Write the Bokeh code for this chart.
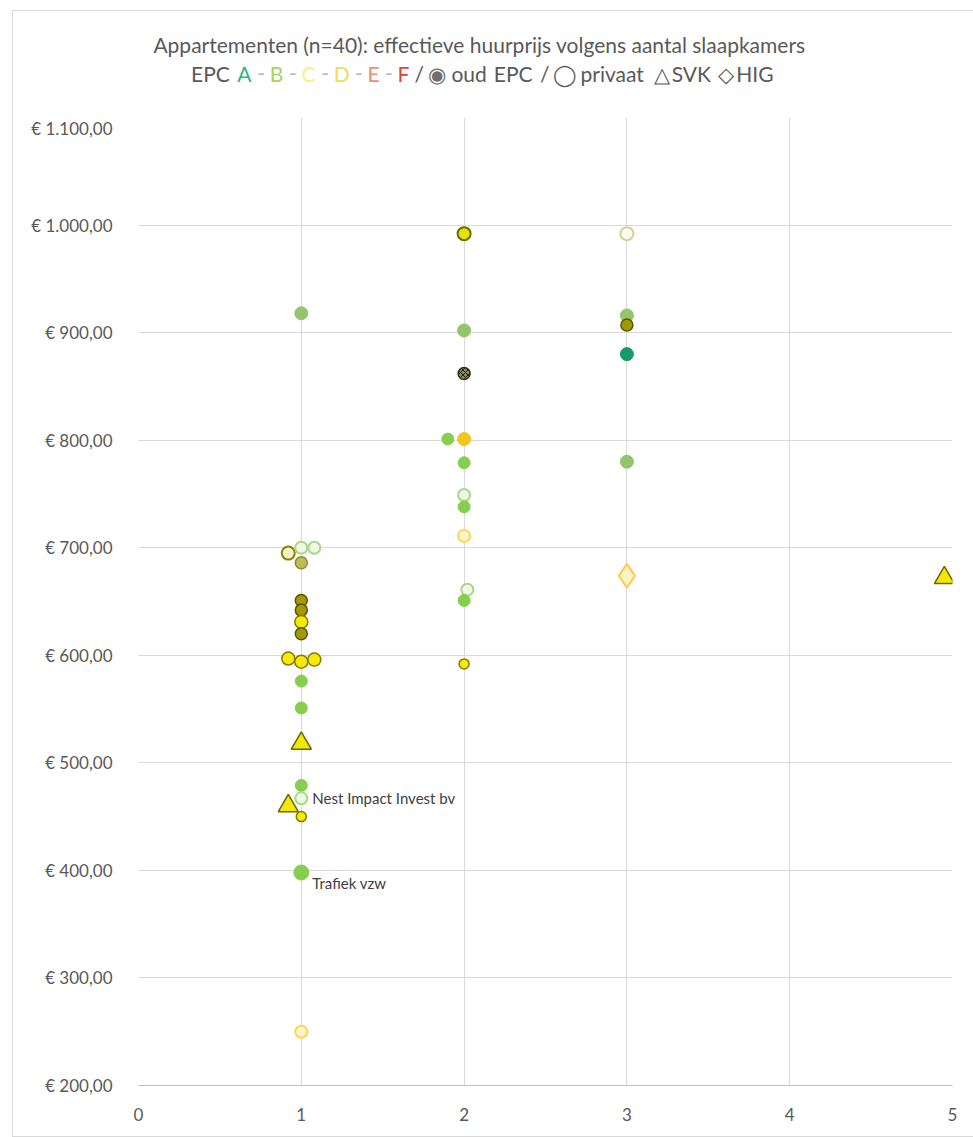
from bokeh.plotting import figure
from bokeh.layouts import column
from bokeh.models import ColumnDataSource, FixedTicker, InlineStyleSheet
from bokeh.core.properties import value
from bokeh.embed import file_html
from bokeh.resources import INLINE

# ---------------- data ----------------
slaapkamers = [1, 0.92, 1, 1.08, 1, 1, 1, 1, 1, 0.92, 1, 1.08, 1, 1, 1, 1, 1, 0.92, 1, 1, 1,
               2, 2, 2, 1.9, 2, 2, 2, 2, 2, 2.02, 2, 2,
               3, 3, 3, 3, 3, 3,
               4.95]
huurprijs = [918, 695, 700, 700, 686, 651, 642, 631, 620, 597, 594, 596, 576, 551, 518, 479, 467, 460, 450, 398, 250,
             992, 902, 862, 801, 801, 779, 749, 738, 711, 661, 651, 592,
             992, 916, 907, 880, 780, 674,
             672]
klasse = ["B-mat", "oud-hol", "B-hol", "B-hol", "oud-licht", "oud", "oud", "D", "oud", "D", "D", "D", "B", "B",
          "SVK-D", "B", "B-hol", "SVK-D", "D-klein", "B-groot", "C-hol",
          "D-rand", "B-mat", "oud-arc", "B", "D-oranje", "B", "B-hol", "B", "C-hol", "B-hol", "B", "D-klein",
          "licht-hol", "B-mat", "oud", "A", "B-mat", "HIG-C",
          "SVK-D"]
labels = [""] * 16 + ["Nest Impact Invest bv"] + [""] * 2 + ["Trafiek vzw"] + [""] * 20

y_ticks = [200, 300, 400, 500, 600, 700, 800, 900, 1000, 1100]
y_tick_labels = ["€ 200,00", "€ 300,00", "€ 400,00", "€ 500,00", "€ 600,00", "€ 700,00",
                 "€ 800,00", "€ 900,00", "€ 1.000,00", "€ 1.100,00"]
x_ticks = [0, 1, 2, 3, 4, 5]

title_1 = "Appartementen (n=40): effectieve huurprijs volgens aantal slaapkamers"
# second title line: tokens (" " = gap only)
title_2 = ["EPC", " ", "A", " ", "-", " ", "B", " ", "-", " ", "C", " ", "-", " ", "D", " ", "-", " ",
           "E", " ", "-", " ", "F", " ", "/", " ", "◉", " ", "oud", " ", "EPC", " ", "/", " ",
           "◯", " ", "privaat", " ", "△", "SVK", " ", "◇", "HIG"]

# ---------------- styles ----------------
STYLE = {
    "A":         ("circle", "#17996a", "#17996a", 1, 13),
    "B":         ("circle", "#86cf4e", "#86cf4e", 1, 12),
    "B-groot":   ("circle", "#86cf4e", "#86cf4e", 1, 15),
    "B-mat":     ("circle", "#94c46c", "#94c46c", 1, 13),
    "B-hol":     ("circle", "#eef8e4", "#a6d985", 2, 12),
    "C-hol":     ("circle", "#fff5cf", "#ffd54a", 2, 12),
    "D":         ("circle", "#f5eb00", "#857a00", 1.5, 13),
    "D-klein":   ("circle", "#f5eb00", "#857a00", 1.5, 10),
    "D-rand":    ("circle", "#e6e200", "#6e6a00", 2, 13),
    "D-oranje":  ("circle", "#f2c61e", "#f2c61e", 1, 13),
    "oud":       ("circle", "#a39a00", "#5c5500", 1.5, 12),
    "oud-licht": ("circle", "#bdbd55", "#8a8a30", 1.5, 12),
    "oud-hol":   ("circle", "#f4f1cc", "#8d8300", 2, 13),
    "licht-hol": ("circle", "#fbfbee", "#cfd29a", 2, 13),
    "oud-arc":   ("circle", "#8a8a60", "#303020", 1.5, 12),
    "SVK-D":     ("triangle", "#f2e800", "#6e6400", 1.5, 20),
    "HIG-C":     ("diamond", "#fff3c8", "#ffc94a", 2, 24),
}

def build(keys_filter):
    d = dict(x=[], y=[], marker=[], fill=[], line=[], lw=[], size=[])
    for xv, yv, k in zip(slaapkamers, huurprijs, klasse):
        if not keys_filter(k):
            continue
        m, f, l, w, s = STYLE[k]
        d["x"].append(xv); d["y"].append(yv); d["marker"].append(m)
        d["fill"].append(f); d["line"].append(l); d["lw"].append(w); d["size"].append(s)
    return ColumnDataSource(d)

FONT = "Lato"
GREY = "#595959"
W = 973
HEAD_H = 117
MAIN_H = 1137 - HEAD_H
FL, FR = 138, 21

# ---------------- header (title, two lines) ----------------
head = figure(width=W, height=HEAD_H, x_range=(FL, W - FR), y_range=(HEAD_H, 0),
              output_backend="svg", toolbar_location=None,
              min_border_left=FL, min_border_right=FR, min_border_top=0, min_border_bottom=0,
              x_axis_type=None, y_axis_type=None)
head.grid.visible = False
head.outline_line_color = None
head.text(x=[479], y=[44], text=[title_1], text_font=value(FONT), text_font_size="21px",
          text_color=GREY, text_align="center", text_baseline="middle")

# approximate advance widths (em) for laying out the multi-coloured second line
EM = {"EPC": 1.84, " ": 0.2, "A": 0.68, "-": 0.35, "B": 0.65, "C": 0.67, "D": 0.74, "E": 0.57,
      "F": 0.55, "/": 0.38, "◉": 0.85, "oud": 1.67, "◯": 1.0, "privaat": 3.02, "△": 0.8,
      "SVK": 1.85, "◇": 0.8, "HIG": 1.75}
COLS = {"A": "#34b07e", "B": "#a8d25e", "C": "#ffeb8c", "D": "#eedd55", "E": "#f28a78",
        "F": "#e0403a", "-": "#b4b4b4", "◉": "#6e6e6e"}
FS2 = 21
target_w = 585
nat_w = sum(EM[t] for t in title_2) * FS2
k = target_w / nat_w
x0 = 483 - target_w / 2
seg_x, seg_t, seg_c = [], [], []
cur = x0
for t in title_2:
    if t != " ":
        seg_x.append(cur); seg_t.append(t); seg_c.append(COLS.get(t, GREY))
    cur += EM[t] * FS2 * k
head.text(x=seg_x, y=[73] * len(seg_x), text=seg_t, text_color=seg_c,
          text_font=value(FONT), text_font_size=f"{FS2}px", text_align="left", text_baseline="middle")

# ---------------- main chart ----------------
p = figure(width=W, height=MAIN_H, x_range=(0, 5), y_range=(200, 1100),
           output_backend="svg", toolbar_location=None,
           min_border_left=FL, min_border_right=FR, min_border_top=0, min_border_bottom=52)
p.outline_line_color = None

p.xaxis.ticker = FixedTicker(ticks=x_ticks)
p.yaxis.ticker = FixedTicker(ticks=y_ticks)
p.yaxis.major_label_overrides = {t: lab for t, lab in zip(y_ticks, y_tick_labels)}
for ax in (p.xaxis, p.yaxis):
    ax.major_tick_line_color = None
    ax.minor_tick_line_color = None
    ax.major_label_text_font = FONT
    ax.major_label_text_font_size = "17px"
    ax.major_label_text_color = GREY
p.xaxis.axis_line_color = "#bfbfbf"
p.yaxis.axis_line_color = None
p.yaxis.major_label_standoff = 20
p.xaxis.major_label_standoff = 16
p.xgrid.grid_line_color = "#d9d9d9"
p.ygrid.grid_line_color = "#d9d9d9"

src_main = build(lambda k: k != "oud-arc")
src_arc = build(lambda k: k == "oud-arc")
p.scatter(x="x", y="y", source=src_main, marker="marker", size="size",
          fill_color="fill", line_color="line", line_width="lw")
p.scatter(x="x", y="y", source=src_arc, marker="marker", size="size",
          fill_color="fill", line_color="line", line_width="lw",
          hatch_pattern="x", hatch_color="#202010", hatch_scale=5)

LABEL_OFFSET = {"Nest Impact Invest bv": (11, 0), "Trafiek vzw": (11, 10)}
for xv, yv, t in zip(slaapkamers, huurprijs, labels):
    if t:
        dx, dy = LABEL_OFFSET[t]
        p.text(x=[xv], y=[yv], text=[t], x_offset=dx, y_offset=dy,
               text_font=value(FONT), text_font_size="15px", text_color="#404040",
               text_baseline="middle", text_align="left")

border_css = (":host { position: relative; }"
              ":host::after { content: ''; position: absolute; left: 12px; top: 10px; width: 980px;"
              " bottom: 0px; border: 1px solid #d9d9d9; box-sizing: border-box; pointer-events: none; }")
layout = column(head, p, spacing=0, stylesheets=[InlineStyleSheet(css=border_css)])
open("out.html", "w").write(file_html(layout, INLINE))
